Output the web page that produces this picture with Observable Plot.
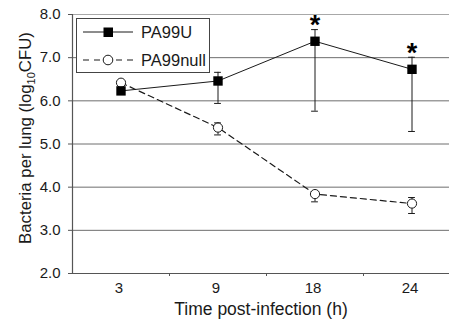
<!DOCTYPE html>
<html><head><meta charset="utf-8">
<script src="https://cdn.jsdelivr.net/npm/d3@7"></script>
<script src="https://cdn.jsdelivr.net/npm/@observablehq/plot@0.6"></script>
<style>
body{margin:0;background:#fff;}
#wrap{position:relative;width:449px;height:323px;overflow:hidden;background:#fff;}
#legend{position:absolute;left:0;top:0;}
</style>
</head><body><div id="wrap"></div>
<script>
const times = ["3", "9", "18", "24"];
const pa99uMean = [6.23, 6.46, 7.38, 6.73];
const pa99uLow  = [null, 5.94, 5.76, 5.29];
const pa99uHigh = [null, 6.66, 7.65, 7.01];
const nullMean  = [6.42, 5.38, 3.84, 3.62];
const nullLow   = [null, 5.21, 3.66, 3.39];
const nullHigh  = [null, 5.49, 3.90, 3.76];
const significant = [false, false, true, true];
const yTicks = [2, 3, 4, 5, 6, 7, 8];
const seriesNames = ["PA99U", "PA99null"];
const xLabel = "Time post-infection (h)";

const rowsU = times.map((t, i) => ({i, t, mean: pa99uMean[i], low: pa99uLow[i], high: pa99uHigh[i]}));
const rowsN = times.map((t, i) => ({i, t, mean: nullMean[i], low: nullLow[i], high: nullHigh[i]}));
const errU = rowsU.filter(d => d.low != null);
const errN = rowsN.filter(d => d.low != null);
const stars = rowsU.filter(d => significant[d.i]);
const cap = 0.035;

const font = "'Liberation Sans', Arial, sans-serif";
const ink = "#1a1a1a";

const chart = Plot.plot({
  width: 449, height: 323,
  marginLeft: 72, marginTop: 14, marginBottom: 50, marginRight: 0,
  style: {fontFamily: font, fontSize: "15px", color: ink, background: "white"},
  x: {type: "linear", domain: [-0.5, 3.5], range: [72, 460], axis: null},
  y: {domain: [2, 8], axis: null},
  marks: [
    Plot.ruleY(yTicks.filter(v => v > 2 && v < 8), {stroke: "#6e6e6e", strokeWidth: 1}),
    Plot.ruleY([8], {stroke: "#a8a8a8", strokeWidth: 1}),
    Plot.ruleY([2], {stroke: "#555", strokeWidth: 1.2}),
    Plot.ruleX([-0.5], {stroke: "#555", strokeWidth: 1.2}),
    Plot.axisY({ticks: yTicks, tickFormat: d3.format(".1f"), tickSize: 4, tickPadding: 8, fontSize: 15, label: null, stroke: "#555"}),
    Plot.axisX({ticks: [0, 1, 2, 3], tickFormat: i => times[i], tickSize: 0, tickPadding: 9, fontSize: 15, label: null, dx: -2}),
    Plot.axisX({ticks: [0.5, 1.5, 2.5], tickFormat: () => "", tickSize: 3, label: null, stroke: "#555"}),
    Plot.text([xLabel], {frameAnchor: "bottom", dy: 41, fontSize: 17.5, fill: ink}),
    // PA99null
    Plot.ruleX(errN, {x: "i", y1: "low", y2: "high", stroke: ink, strokeWidth: 1}),
    Plot.ruleY(errN, {y: "low", x1: d => d.i - cap, x2: d => d.i + cap, stroke: ink, strokeWidth: 1}),
    Plot.ruleY(errN, {y: "high", x1: d => d.i - cap, x2: d => d.i + cap, stroke: ink, strokeWidth: 1}),
    Plot.line(rowsN, {x: "i", y: "mean", stroke: ink, strokeWidth: 1.2, strokeDasharray: "6,4"}),
    Plot.dot(rowsN, {x: "i", y: "mean", r: 4.6, fill: "white", stroke: ink, strokeWidth: 1}),
    // PA99U
    Plot.ruleX(errU, {x: "i", y1: "low", y2: "high", stroke: ink, strokeWidth: 1}),
    Plot.ruleY(errU, {y: "low", x1: d => d.i - cap, x2: d => d.i + cap, stroke: ink, strokeWidth: 1}),
    Plot.ruleY(errU, {y: "high", x1: d => d.i - cap, x2: d => d.i + cap, stroke: ink, strokeWidth: 1}),
    Plot.line(rowsU, {x: "i", y: "mean", stroke: ink, strokeWidth: 1}),
    Plot.dot(rowsU, {x: "i", y: "mean", r: 5.3, symbol: "square", fill: "#000", stroke: "none"}),
    Plot.text(stars, {x: "i", y: "high", text: () => "*", fontSize: 27, fontWeight: "bold", fill: "#000", lineAnchor: "middle", dy: -4})
  ]
});

const svg = d3.select(chart);
// Y axis title with subscript
const yt = svg.append("text")
  .attr("transform", "translate(31,138) rotate(-90)")
  .attr("text-anchor", "middle")
  .attr("font-family", font)
  .attr("font-size", 16.8)
  .attr("fill", ink);
yt.append("tspan").text("Bacteria per lung (log");
yt.append("tspan").attr("font-size", 11).attr("dy", 4).text("10");
yt.append("tspan").attr("dy", -4).text("CFU)");

document.getElementById("wrap").appendChild(chart);

// Legend box
const lg = d3.select("#wrap").append("svg").attr("id", "legend").attr("width", 449).attr("height", 323);
lg.append("rect").attr("x", 76.5).attr("y", 18.5).attr("width", 133).attr("height", 54)
  .attr("fill", "white").attr("stroke", "#444").attr("stroke-width", 1);
const rowsY = [32, 60];
seriesNames.forEach((name, k) => {
  const y = rowsY[k];
  lg.append("line").attr("x1", 83).attr("x2", 133).attr("y1", y).attr("y2", y)
    .attr("stroke", ink).attr("stroke-width", k === 0 ? 1 : 1.2)
    .attr("stroke-dasharray", k === 0 ? null : "6,5");
  if (k === 0) {
    lg.append("rect").attr("x", 103.5).attr("y", y - 4.5).attr("width", 9.5).attr("height", 9.5).attr("fill", "#000");
  } else {
    lg.append("circle").attr("cx", 108).attr("cy", y).attr("r", 4.8).attr("fill", "white").attr("stroke", ink);
  }
  lg.append("text").attr("x", 141).attr("y", y + 6).attr("font-family", font).attr("font-size", 16.5)
    .attr("fill", ink).text(name);
});
</script>
</body></html>
